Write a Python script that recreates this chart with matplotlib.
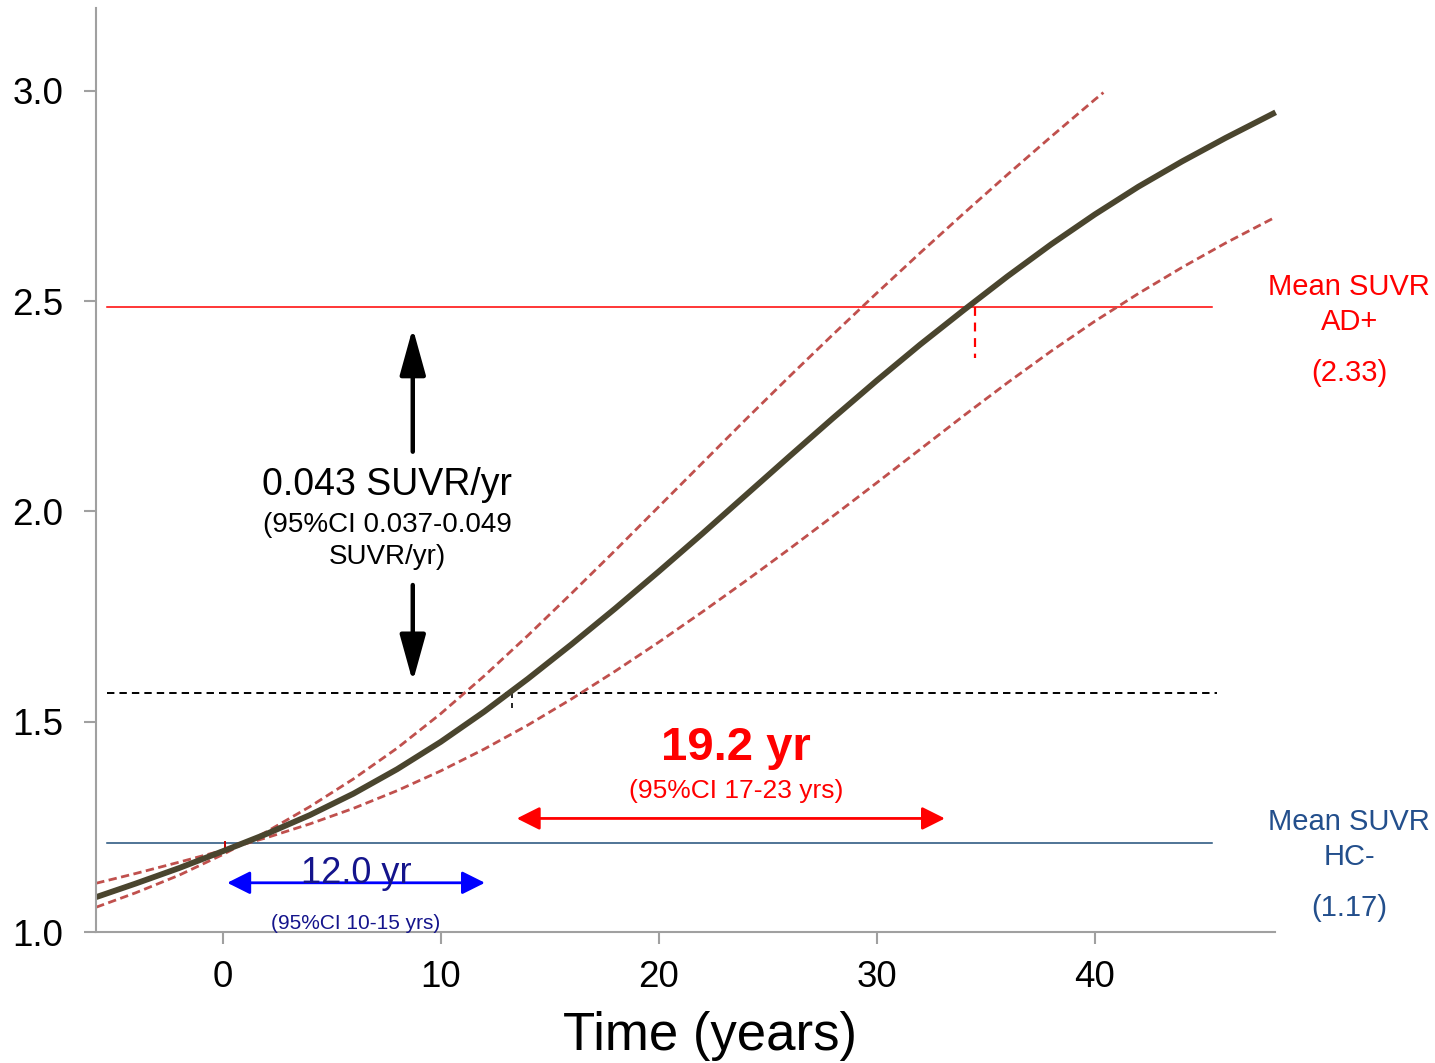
import matplotlib
matplotlib.use("Agg")
import matplotlib.pyplot as plt

plt.rcParams["font.family"] = ["Liberation Sans", "DejaVu Sans"]

# fitted SUVR trajectory and its 95% confidence bounds
time_fit = [-5.8, -4, -2, 0, 2, 4, 6, 8, 10, 12, 14, 16, 18, 20, 22, 24, 26,
            28, 30, 32, 34, 36, 38, 40, 42, 44, 46, 48, 48.3]
suvr_fit = [1.083, 1.115, 1.152, 1.192, 1.233, 1.278, 1.329, 1.387, 1.452,
            1.524, 1.602, 1.684, 1.769, 1.857, 1.947, 2.039, 2.131, 2.222,
            2.311, 2.397, 2.479, 2.559, 2.635, 2.706, 2.772, 2.832, 2.888,
            2.941, 2.949]

time_ci_hi = [-5.8, -4, -2, 0, 2, 4, 6, 8, 10, 12, 14, 16, 18, 20, 22, 24,
              26, 28, 30, 32, 34, 36, 38, 40, 40.4]
suvr_ci_hi = [1.059, 1.093, 1.135, 1.184, 1.238, 1.298, 1.364, 1.437, 1.519,
              1.609, 1.705, 1.805, 1.907, 2.011, 2.115, 2.219, 2.321, 2.421,
              2.519, 2.615, 2.709, 2.801, 2.891, 2.979, 2.996]

time_ci_lo = [-5.8, -4, -2, 0, 2, 4, 6, 8, 10, 12, 14, 16, 18, 20, 22, 24,
              26, 28, 30, 32, 34, 36, 38, 40, 42, 44, 46, 48, 48.3]
suvr_ci_lo = [1.116, 1.139, 1.166, 1.194, 1.224, 1.257, 1.294, 1.336, 1.383,
              1.435, 1.492, 1.554, 1.620, 1.689, 1.761, 1.835, 1.911, 1.989,
              2.068, 2.148, 2.228, 2.306, 2.381, 2.452, 2.518, 2.580, 2.638,
              2.692, 2.700]

# reference levels
hc_level = 1.212
mid_level = 1.568
ad_level = 2.487
level_start, level_end = -5.3, 45.4

t_hc, t_mid, t_ad = 0.1, 13.25, 34.5

# interval arrows
span_hc_mid = (0.21, 12.03)
span_mid_ad = (13.49, 33.13)

xticks = [0, 10, 20, 30, 40]
yticks = [1.0, 1.5, 2.0, 2.5, 3.0]

fig = plt.figure(figsize=(14.35, 10.63), dpi=100)
ax = fig.add_axes([96 / 1435, 1 - 932 / 1063, (1275 - 96) / 1435, (932 - 8) / 1063])

ax.set_xlim(-5.81, 48.27)
ax.set_ylim(1.0, 3.197)

# horizontal reference lines
ax.plot([level_start, level_end], [ad_level, ad_level], color="#FF0000", lw=1.1)
ax.plot([level_start, level_end], [hc_level, hc_level], color="#1F4E79", lw=1.1)
ax.plot([level_start, level_end + 0.2], [mid_level, mid_level], color="black",
        lw=1.4, dashes=(3.8, 2.6))

# drop lines at the crossings
ax.plot([t_ad, t_ad], [ad_level, 2.365], color="#FF0000", lw=1.6, dashes=(4, 3))
ax.plot([t_mid, t_mid], [mid_level, 1.523], color="black", lw=1.2, dashes=(3, 3))
ax.plot([t_hc, t_hc], [hc_level + 0.003, 1.19], color="#C00000", lw=1.4)

# confidence bounds and fit
ax.plot(time_ci_hi, suvr_ci_hi, color="#C0504D", lw=2.0, dashes=(3, 1.6))
ax.plot(time_ci_lo, suvr_ci_lo, color="#C0504D", lw=2.0, dashes=(3, 1.6))
ax.plot(time_fit, suvr_fit, color="#4A452E", lw=4.2, clip_on=False,
        solid_capstyle="butt")

# rate arrows
black_head = "-|>,head_length=1.3,head_width=0.36"
ax.annotate("", xy=(8.72, 2.436), xytext=(8.72, 2.142),
            arrowprops=dict(arrowstyle=black_head, color="black", lw=3.2,
                            mutation_scale=22, shrinkA=0, shrinkB=0))
ax.annotate("", xy=(8.72, 1.595), xytext=(8.72, 1.825),
            arrowprops=dict(arrowstyle=black_head, color="black", lw=3.2,
                            mutation_scale=22, shrinkA=0, shrinkB=0))

ax.annotate("", xy=(span_mid_ad[0], 1.270), xytext=(span_mid_ad[1], 1.270),
            arrowprops=dict(arrowstyle="<|-|>,head_length=0.7,head_width=0.35",
                            color="#FF0000", lw=2.0, mutation_scale=20,
                            shrinkA=0, shrinkB=0))
ax.annotate("", xy=(span_hc_mid[0], 1.117), xytext=(span_hc_mid[1], 1.117),
            arrowprops=dict(arrowstyle="<|-|>,head_length=0.7,head_width=0.35",
                            color="#0000FF", lw=2.0, mutation_scale=20,
                            shrinkA=0, shrinkB=0))

# annotations
ax.text(7.54, 2.062, "0.043 SUVR/yr", fontsize=27, ha="center", va="center")
ax.text(7.54, 1.967, "(95%CI 0.037-0.049", fontsize=20, ha="center", va="center")
ax.text(7.54, 1.891, "SUVR/yr)", fontsize=20, ha="center", va="center")

ax.text(23.55, 1.437, "19.2 yr", fontsize=34, fontweight="bold",
        color="#FF0000", ha="center", va="center")
ax.text(23.55, 1.335, "(95%CI 17-23 yrs)", fontsize=19,
        color="#FF0000", ha="center", va="center")

ax.text(6.11, 1.140, "12.0 yr", fontsize=26, color="#14148C",
        ha="center", va="center")
ax.text(6.11, 1.021, "(95%CI 10-15 yrs)", fontsize=15, color="#14148C",
        ha="center", va="center")

for txt, yv in [("Mean SUVR", 2.533), ("AD+", 2.450), ("(2.33)", 2.329)]:
    ax.text(51.68, yv, txt, fontsize=21, color="#FF0000",
            ha="center", va="center")
for txt, yv in [("Mean SUVR", 1.261), ("HC-", 1.178), ("(1.17)", 1.057)]:
    ax.text(51.68, yv, txt, fontsize=21, color="#234F8C",
            ha="center", va="center")

# axes styling
for side in ["top", "right"]:
    ax.spines[side].set_visible(False)
for side in ["left", "bottom"]:
    ax.spines[side].set_color("#A0A0A0")
    ax.spines[side].set_linewidth(1.5)

ax.set_xticks(xticks)
ax.set_yticks(yticks)
ax.set_yticklabels([f"{v:.1f}" for v in yticks])
ax.tick_params(axis="both", colors="#A0A0A0", labelcolor="black",
               labelsize=26.5, length=8.5, width=1.5, direction="out")
ax.tick_params(axis="y", pad=15)
ax.tick_params(axis="x", pad=12)

fig.text(710 / 1435, 1 - 1050 / 1063, "Time (years)", fontsize=38,
         ha="center", va="baseline")

fig.savefig("out.png", dpi=100)
